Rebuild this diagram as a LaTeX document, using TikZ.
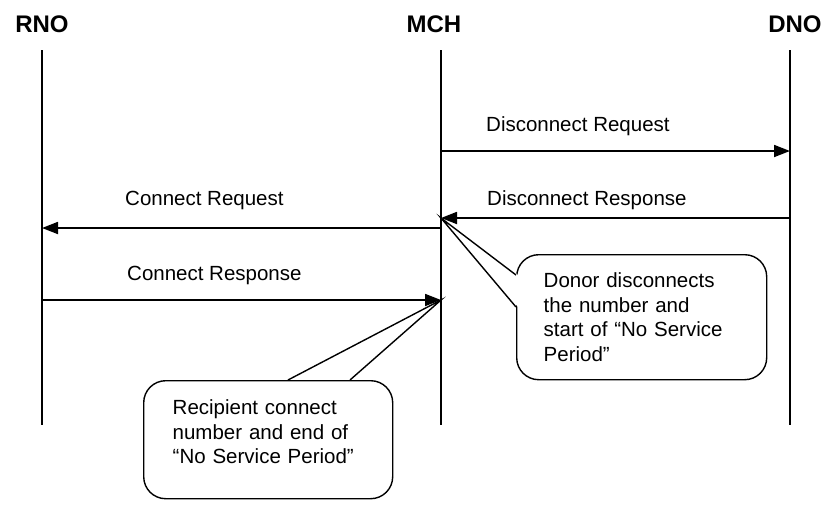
\documentclass[tikz,border=0pt]{standalone}
\usepackage{fontspec}
\setmainfont{Liberation Sans}
\usepackage{tikz}
\usetikzlibrary{arrows.meta, positioning}
\tikzset{
    actor/.style={font=\bfseries\fontsize{24}{28}\selectfont, inner sep=0pt},
    lifeline/.style={line width=1.4pt},
    message/.style={-{Triangle[length=16pt,width=12pt]}, line width=1.8pt},
    msglabel/.style={anchor=base west, inner sep=0pt, font=\fontsize{20.5}{24.5}\selectfont},
    bubble/.style={rectangle, rounded corners=22pt, draw, line width=1.4pt, fill=white,
        align=left, font=\fontsize{20.5}{24.5}\selectfont, inner sep=0pt}
}
\begin{document}
\begin{tikzpicture}[x=1pt, y=-1pt]
    \useasboundingbox (0,0) rectangle (823,504);

    % Parties
    \node[actor] (rno) at (42,24) {RNO};
    \node[actor] (mch) at (434,24) {MCH};
    \node[actor] (dno) at (795,24) {DNO};

    % Lifeline and message end points
    \foreach \n/\x in {rno/42, mch/441, dno/790} {
        \coordinate (\n top) at (\x,50);
        \coordinate (\n bot) at (\x,425);
    }
    \coordinate (dreq mch) at (441,151);
    \coordinate (dreq dno) at (790,151);
    \coordinate (drsp dno) at (790,218);
    \coordinate (drsp mch) at (441,218);
    \coordinate (creq mch) at (441,228);
    \coordinate (creq rno) at (42,228);
    \coordinate (crsp rno) at (42,300);
    \coordinate (crsp mch) at (441,300);

    % Callout: donor side
    \node[bubble, anchor=north west, minimum width=250pt, minimum height=125pt,
        text width=196pt] (donor) at (516,254)
        {Donor disconnects\\the number and\\start of “No Service\\Period”};
    \fill[white] ([shift={(2pt,-21pt)}]donor.north west) -- (drsp mch)
        -- ([shift={(2pt,-53pt)}]donor.north west) -- cycle;
    \draw[line width=1.4pt] ([shift={(0pt,-21pt)}]donor.north west) -- (drsp mch)
        -- ([shift={(0pt,-53pt)}]donor.north west);

    % Callout: recipient side
    \node[bubble, anchor=north west, minimum width=249pt, minimum height=118pt,
        text width=191pt] (recip) at (143,380)
        {Recipient connect\\number and end of\\“No Service Period”\rule[-16pt]{0pt}{16pt}};
    \fill[white] ([shift={(145pt,2pt)}]recip.north west) -- (crsp mch)
        -- ([shift={(207pt,2pt)}]recip.north west) -- cycle;
    \draw[line width=1.4pt] ([shift={(145pt,0pt)}]recip.north west) -- (crsp mch)
        -- ([shift={(207pt,0pt)}]recip.north west);

    % Lifelines
    \foreach \n in {rno, mch, dno}
        \draw[lifeline] (\n top) -- (\n bot);

    % Messages
    \draw[message] (dreq mch) -- (dreq dno);
    \draw[message] (drsp dno) -- (drsp mch);
    \draw[message] (creq mch) -- (creq rno);
    \draw[message] (crsp rno) -- (crsp mch);

    % Message labels
    \node[msglabel] (dreq) at (486,131) {Disconnect Request};
    \node[msglabel] (drsp) at (487,205) {Disconnect Response};
    \node[msglabel] (creq) at (125,205) {Connect Request};
    \node[msglabel] (crsp) at (127,280) {Connect Response};
\end{tikzpicture}
\end{document}
